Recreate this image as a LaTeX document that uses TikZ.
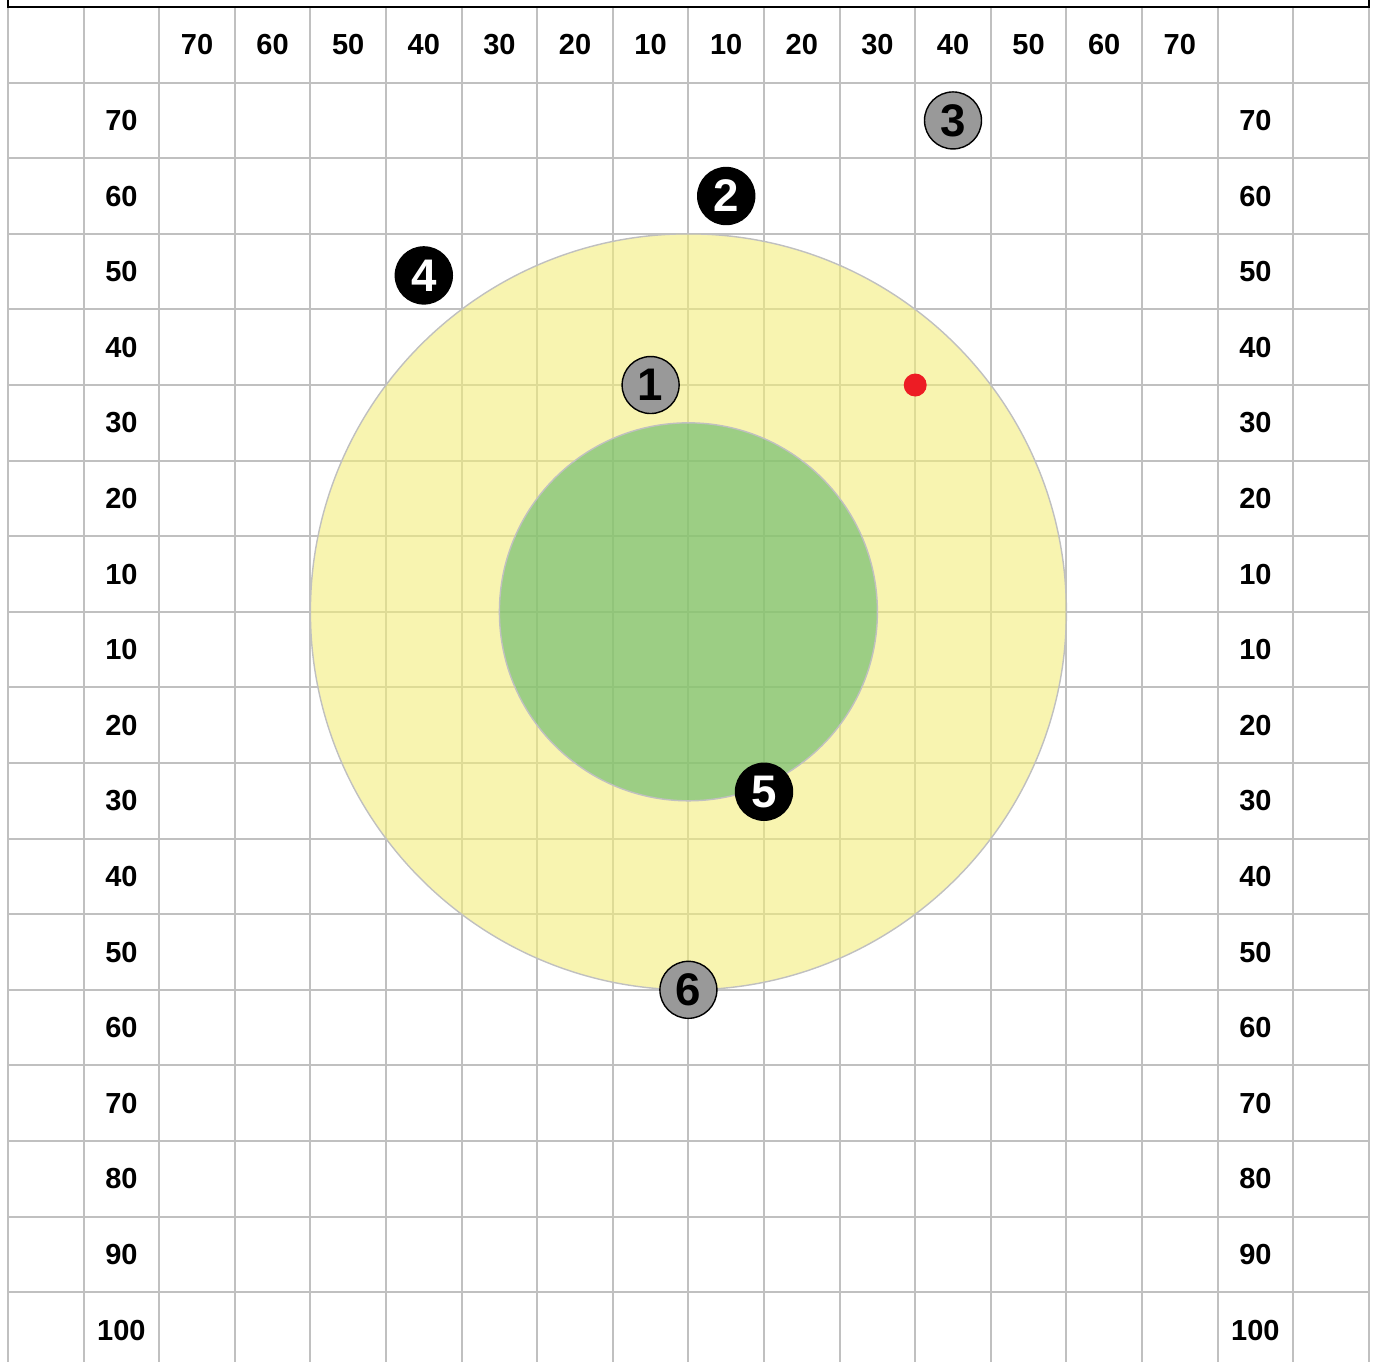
\documentclass[tikz,border=0pt]{standalone}
\usepackage{fontspec}
\setmainfont{Liberation Sans}
\definecolor{gridgray}{RGB}{192,192,192}
\definecolor{ringyellow}{RGB}{243,237,123}
\definecolor{ringgreen}{RGB}{95,182,104}
\definecolor{markgray}{RGB}{153,153,153}
\definecolor{dotred}{RGB}{237,28,36}
\begin{document}
\begin{tikzpicture}[
        x=1.512cm, y=1.512cm,
        gridline/.style={draw=gridgray, line width=1.1pt},
        axis/.style={font=\fontsize{16.5}{16.5}\selectfont\bfseries},
        ring/.style={draw=gridgray, line width=0.8pt, fill opacity=0.6},
        marker/.style={circle, draw=black, line width=0.8pt, minimum size=1.14cm, inner sep=0pt, font=\fontsize{26}{26}\selectfont\bfseries},
        blackmark/.style={marker, fill=black, text=white},
        graymark/.style={marker, fill=markgray, text=black}
    ]
        \useasboundingbox (-0.106,0.093) rectangle (18.069,-17.923);
        \clip (-0.106,0.093) rectangle (18.069,-17.923);

        % Grid
        \draw[gridline, step=1.512cm] (0,0) grid (18,-18);
        \draw[line width=1.1pt] (0,0.5) -- (0,0) -- (18,0) -- (18,0.5);

        % Labels
        \foreach \v [count=\i from 2] in {70,60,50,40,30,20,10,10,20,30,40,50,60,70}
            \node[axis] (top\i) at (\i+0.5,-0.5) {\v};
        \foreach \v [count=\j from 1] in {70,60,50,40,30,20,10,10,20,30,40,50,60,70,80,90,100} {
            \node[axis] (left\j) at (1.5,-\j-0.5) {\v};
            \node[axis] (right\j) at (16.5,-\j-0.5) {\v};
        }

        % Rings
        \filldraw[ring, fill=ringyellow] (9,-8) circle (5);
        \filldraw[ring, fill=ringgreen] (9,-8) circle (2.5);

        % Markers
        \node[graymark] (m1) at (8.5,-5) {1};
        \node[blackmark] (m2) at (9.5,-2.5) {2};
        \node[graymark] (m3) at (12.5,-1.5) {3};
        \node[blackmark] (m4) at (5.5,-3.55) {4};
        \node[blackmark] (m5) at (10,-10.38) {5};
        \node[graymark] (m6) at (9,-13) {6};
        \node[circle, fill=dotred, minimum size=0.46cm, inner sep=0pt] (hit) at (12,-5) {};
    \end{tikzpicture}
\end{document}
